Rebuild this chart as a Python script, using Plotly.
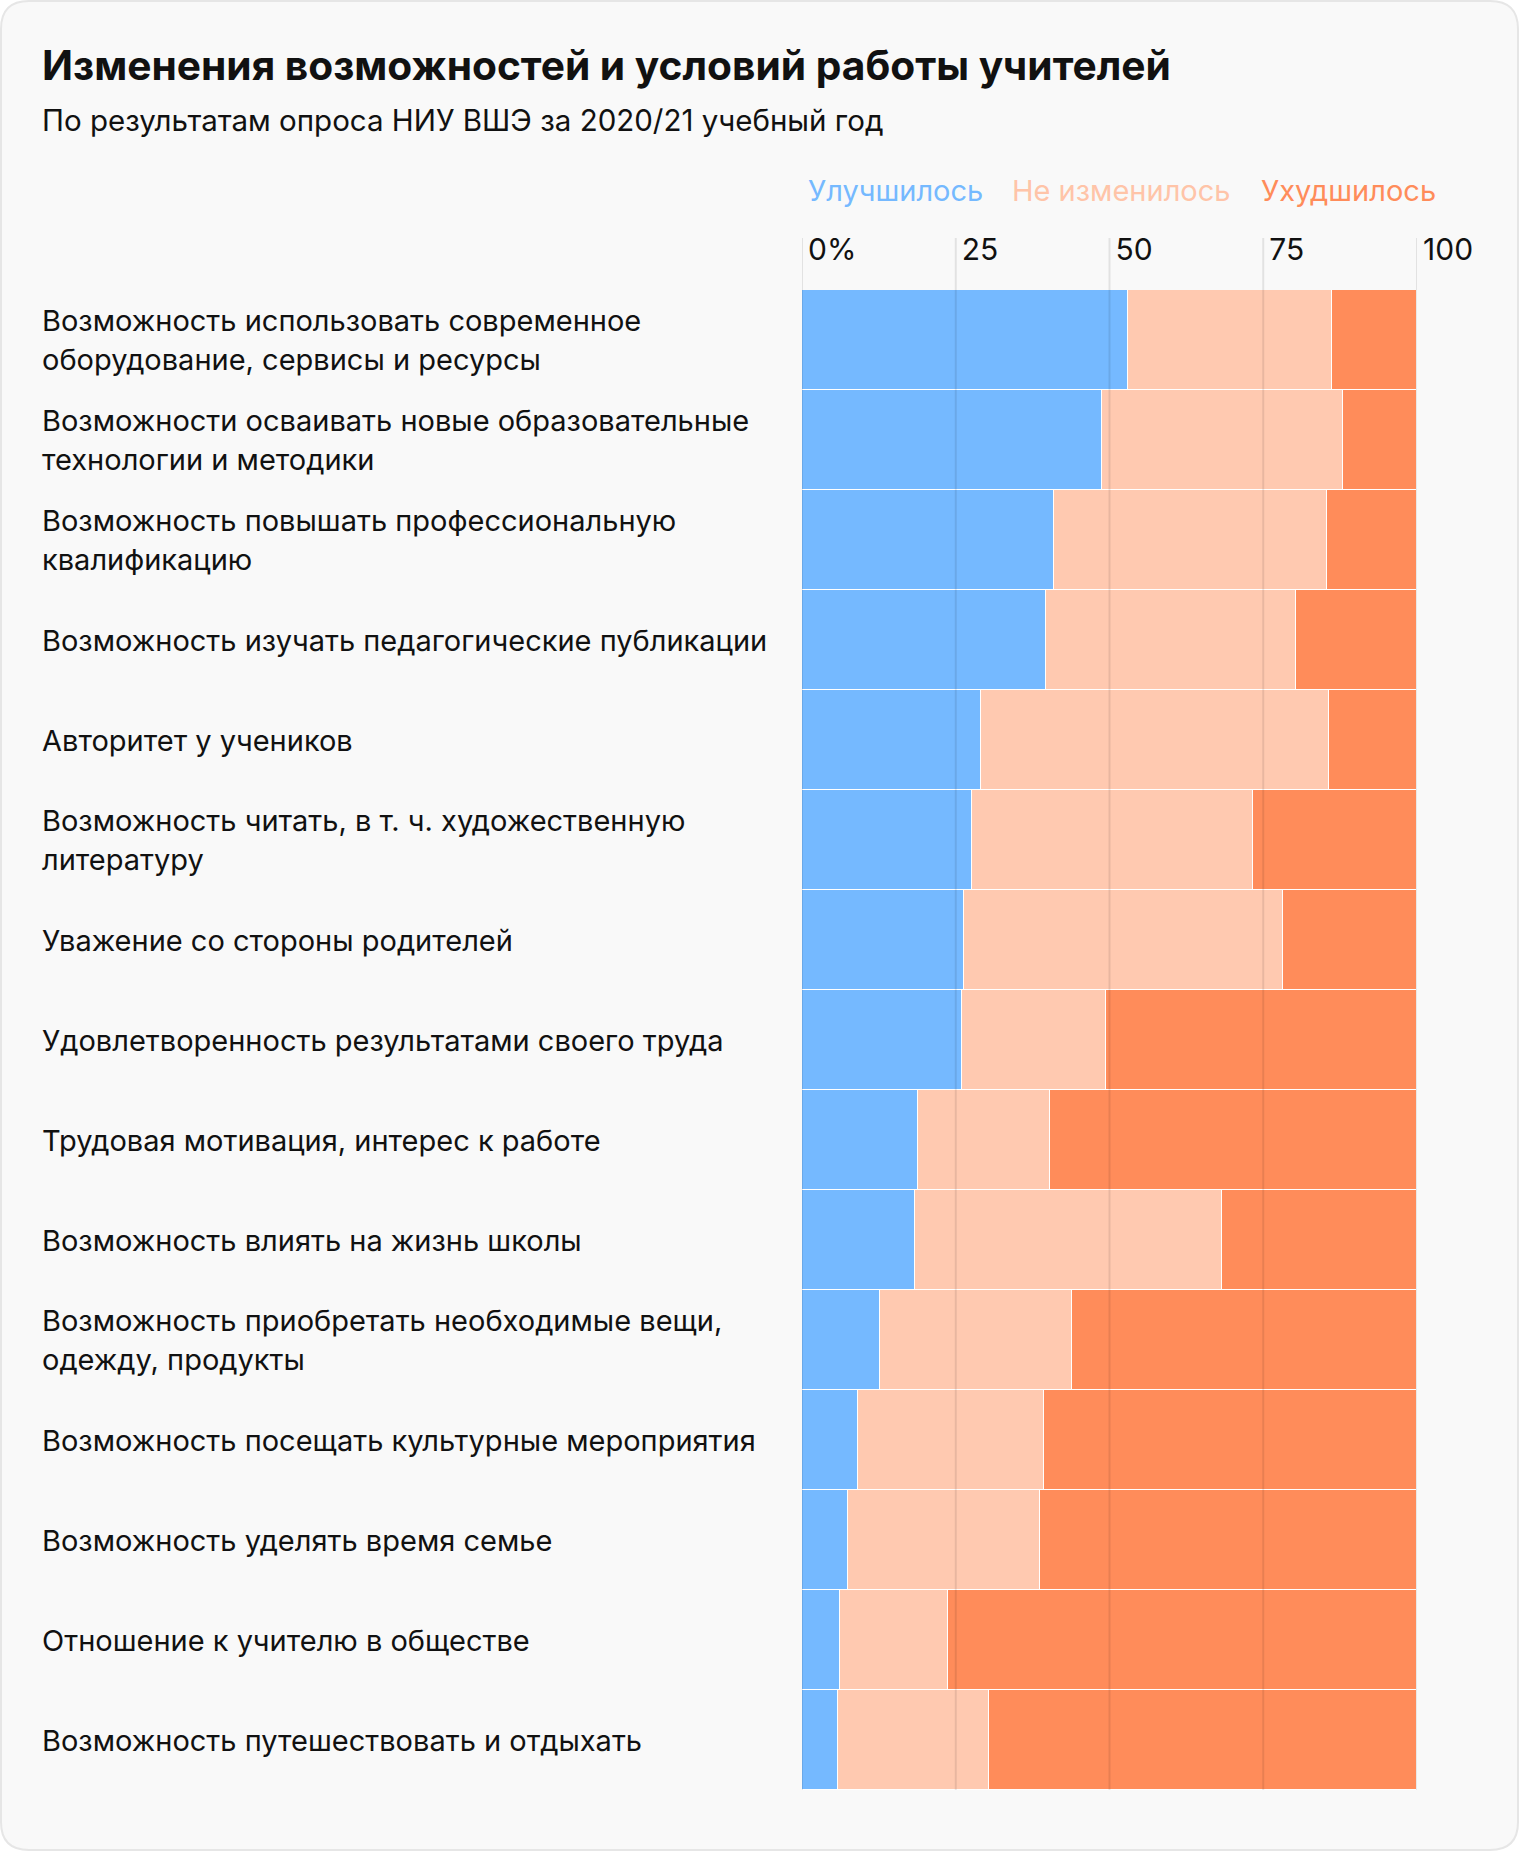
import plotly.graph_objects as go

# ---------------- data ----------------
label_lines = [
    ["Возможность использовать современное", "оборудование, сервисы и ресурсы"],
    ["Возможности осваивать новые образовательные", "технологии и методики"],
    ["Возможность повышать профессиональную", "квалификацию"],
    ["Возможность изучать педагогические публикации"],
    ["Авторитет у учеников"],
    ["Возможность читать, в т. ч. художественную", "литературу"],
    ["Уважение со стороны родителей"],
    ["Удовлетворенность результатами своего труда"],
    ["Трудовая мотивация, интерес к работе"],
    ["Возможность влиять на жизнь школы"],
    ["Возможность приобретать необходимые вещи,", "одежду, продукты"],
    ["Возможность посещать культурные мероприятия"],
    ["Возможность уделять время семье"],
    ["Отношение к учителю в обществе"],
    ["Возможность путешествовать и отдыхать"],
]
categories = [" ".join(l) for l in label_lines]

improved = [53.0, 48.8, 40.9, 39.6, 29.1, 27.6, 26.3, 26.0, 18.9, 18.3, 12.7, 9.1, 7.5, 6.2, 5.9]
unchanged = [33.1, 39.2, 44.5, 40.8, 56.6, 45.7, 51.9, 23.5, 21.4, 50.0, 31.2, 30.2, 31.2, 17.6, 24.5]
worsened = [13.9, 12.0, 14.6, 19.6, 14.3, 26.7, 21.8, 50.5, 59.7, 31.7, 56.1, 60.7, 61.3, 76.2, 69.6]

series_names = ["Улучшилось", "Не изменилось", "Ухудшилось"]
tick_vals = [0, 25, 50, 75, 100]
tick_text = ["0%", "25", "50", "75", "100"]

title = "Изменения возможностей и условий работы учителей"
subtitle = "По результатам опроса НИУ ВШЭ за 2020/21 учебный год"

# ---------------- style ----------------
colors = ["#75b9ff", "#ffc9b0", "#ff8c5a"]
legend_colors = ["#75b9ff", "#ffc4a8", "#ff8c5a"]
FONT = "Inter"
W, H = 1520, 1852
ML, MR, MT, MB = 802, 103, 290, 62
PW, PH = W - ML - MR, H - MT - MB


def px2x(px):
    return (px - ML) / PW


def py2y(py):
    return (H - MB - py) / PH


fig = go.Figure()
for name, vals, col in zip(series_names, [improved, unchanged, worsened], colors):
    fig.add_trace(go.Bar(
        y=categories, x=vals, name=name, orientation="h",
        marker=dict(color=col, line=dict(color="#ffffff", width=1.5)),
        showlegend=False,
    ))

shapes = []
# card background with rounded corners
r = 28
x0, x1, y0, y1 = 1, W - 2, 1, H - 2
path = (
    f"M {px2x(x0 + r)},{py2y(y0)} L {px2x(x1 - r)},{py2y(y0)} "
    f"Q {px2x(x1)},{py2y(y0)} {px2x(x1)},{py2y(y0 + r)} "
    f"L {px2x(x1)},{py2y(y1 - r)} Q {px2x(x1)},{py2y(y1)} {px2x(x1 - r)},{py2y(y1)} "
    f"L {px2x(x0 + r)},{py2y(y1)} Q {px2x(x0)},{py2y(y1)} {px2x(x0)},{py2y(y1 - r)} "
    f"L {px2x(x0)},{py2y(y0 + r)} Q {px2x(x0)},{py2y(y0)} {px2x(x0 + r)},{py2y(y0)} Z"
)
shapes.append(dict(type="path", path=path, xref="paper", yref="paper",
                   fillcolor="#f9f9f9", line=dict(color="#e6e6e6", width=2), layer="below"))
# gridlines above bars
for v in tick_vals:
    shapes.append(dict(type="line", xref="x", yref="paper", x0=v, x1=v,
                       y0=0, y1=py2y(238), layer="above",
                       line=dict(color="rgba(0,0,0,0.09)", width=2)))

annotations = []
annotations.append(dict(text=f"<b>{title}</b>", xref="paper", yref="paper",
                        x=px2x(40), y=py2y(65), xanchor="left", yanchor="middle",
                        showarrow=False, font=dict(family=FONT, size=40.7, color="#111111")))
annotations.append(dict(text=subtitle, xref="paper", yref="paper",
                        x=px2x(40), y=py2y(120), xanchor="left", yanchor="middle",
                        showarrow=False, font=dict(family=FONT, size=29.5, color="#111111")))
legend_x = [806, 1010, 1259]
for name, col, lx in zip(series_names, legend_colors, legend_x):
    annotations.append(dict(text=name, xref="paper", yref="paper",
                            x=px2x(lx), y=py2y(190), xanchor="left", yanchor="middle",
                            showarrow=False, font=dict(family=FONT, size=29, color=col)))
for cat, lines in zip(categories, label_lines):
    n = len(lines)
    for i, line in enumerate(lines):
        shift = (((n - 1) / 2) - i) * 39
        annotations.append(dict(text=line, xref="paper", yref="y",
                                x=px2x(40), y=cat, yshift=shift,
                                xanchor="left", yanchor="middle", showarrow=False,
                                font=dict(family=FONT, size=29, color="#111111")))

fig.update_layout(
    width=W, height=H,
    margin=dict(l=ML, r=MR, t=MT, b=MB, pad=0),
    paper_bgcolor="#ffffff", plot_bgcolor="rgba(0,0,0,0)",
    barmode="stack", bargap=0.0,
    shapes=shapes, annotations=annotations,
    font=dict(family=FONT, color="#111111"),
    xaxis=dict(range=[0, 100], side="top", tickvals=tick_vals, ticktext=tick_text,
               showgrid=False, zeroline=False, showline=False, ticks="",
               ticklabelposition="outside right", ticklabelstandoff=23,
               ticklabelshift=6,
               tickfont=dict(family=FONT, size=30, color="#111111"), fixedrange=True),
    yaxis=dict(type="category", autorange="reversed", showticklabels=False,
               showgrid=False, zeroline=False, showline=False, ticks="", fixedrange=True),
)

fig.write_html("out.html", config={"displayModeBar": False},
               post_script="document.body.style.margin='0';")
